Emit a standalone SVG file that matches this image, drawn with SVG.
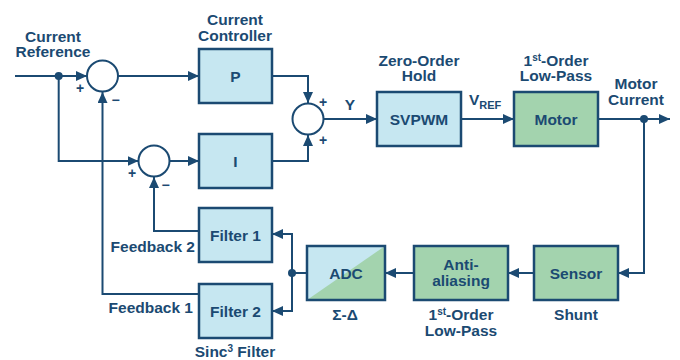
<svg xmlns="http://www.w3.org/2000/svg" width="680" height="360" viewBox="0 0 680 360">
<defs>
<marker id="ah" markerUnits="userSpaceOnUse" markerWidth="12" markerHeight="10" refX="11" refY="5" orient="auto">
<path d="M0,0 L11,5 L0,10 Z" fill="#1b4a72"/>
</marker>
</defs>
<style>
text{font-family:"Liberation Sans",Arial,sans-serif;font-weight:bold;fill:#1b4a72;font-size:15.5px;text-anchor:middle}
.blue{fill:#c6e7f1;stroke:#1b4a72;stroke-width:2.5}
.green{fill:#a3d3ae;stroke:#1b4a72;stroke-width:2.5}
.sum{fill:#ffffff;stroke:#1b4a72;stroke-width:2}
.ln{fill:none;stroke:#1b4a72;stroke-width:2}
.arr{marker-end:url(#ah)}
.dot{fill:#1b4a72}
.sg{font-size:14px}
.end{text-anchor:end}
.start{text-anchor:start}
</style>
<rect width="680" height="360" fill="#ffffff"/>
<g id="connectors">
<path class="ln arr" d="M15,76 H87"/>
<path class="ln arr" d="M118,76 H199"/>
<path class="ln arr" d="M272,76 H308 V103"/>
<path class="ln arr" d="M272,161 H308 V135"/>
<path class="ln arr" d="M323.5,119 H377"/>
<path class="ln arr" d="M461,119 H514"/>
<path class="ln arr" d="M598,119 H670"/>
<path class="ln arr" d="M644,119 V273 H618"/>
<path class="ln arr" d="M534,273 H508"/>
<path class="ln arr" d="M414,273 H385"/>
<path class="ln" d="M307,273 H292"/>
<path class="ln arr" d="M292,273 V234 H272"/>
<path class="ln arr" d="M292,273 V311 H272"/>
<path class="ln arr" d="M199,231 H154 V177"/>
<path class="ln arr" d="M199,294 H102.5 V92"/>
<path class="ln arr" d="M58.7,76 V161 H138.5"/>
<path class="ln arr" d="M169.5,161 H199"/>
<circle class="dot" cx="58.7" cy="76" r="4"/>
<circle class="dot" cx="644" cy="119" r="4"/>
<circle class="dot" cx="292" cy="273" r="4"/>
</g>
<g id="sum1">
<circle class="sum" cx="102.5" cy="76" r="15.5"/>
<text class="sg" x="80" y="93">+</text>
<text class="sg" x="115.5" y="105">−</text>
</g>
<g id="sum2">
<circle class="sum" cx="308" cy="119" r="15.5"/>
<text class="sg" x="323" y="107">+</text>
<text class="sg" x="323" y="145">+</text>
</g>
<g id="sum3">
<circle class="sum" cx="154" cy="161" r="15.5"/>
<text class="sg" x="132" y="178">+</text>
<text class="sg" x="165.5" y="190">−</text>
</g>
<g id="current-reference">
<text x="53" y="42">Current</text>
<text x="53" y="57">Reference</text>
</g>
<g id="p">
<rect class="blue" x="199" y="49" width="73" height="54"/>
<text x="235.5" y="81.5">P</text>
<text x="235" y="25">Current</text>
<text x="235" y="41">Controller</text>
</g>
<g id="i">
<rect class="blue" x="199" y="134" width="73" height="54"/>
<text x="235.5" y="166.5">I</text>
</g>
<g id="y-label">
<text x="350" y="110">Y</text>
</g>
<g id="svpwm">
<rect class="blue" x="377" y="92" width="84" height="54"/>
<text x="419" y="124.5">SVPWM</text>
<text x="419" y="66">Zero-Order</text>
<text x="419" y="81">Hold</text>
</g>
<g id="vref">
<text class="start" x="469" y="105">V<tspan font-size="11" dy="4">REF</tspan></text>
</g>
<g id="motor">
<rect class="green" x="514" y="92" width="84" height="54"/>
<text x="556" y="124.5">Motor</text>
<text x="556" y="66">1<tspan font-size="10" dy="-5">st</tspan><tspan dy="5">-Order</tspan></text>
<text x="556" y="81">Low-Pass</text>
</g>
<g id="motor-current">
<text x="636" y="89">Motor</text>
<text x="636" y="105">Current</text>
</g>
<g id="sensor">
<rect class="green" x="534" y="246" width="84" height="54"/>
<text x="576" y="278.5">Sensor</text>
<text x="576" y="320">Shunt</text>
</g>
<g id="anti-aliasing">
<rect class="green" x="414" y="246" width="94" height="54"/>
<text x="461" y="270">Anti-</text>
<text x="461" y="286">aliasing</text>
<text x="461" y="320">1<tspan font-size="10" dy="-5">st</tspan><tspan dy="5">-Order</tspan></text>
<text x="461" y="336">Low-Pass</text>
</g>
<g id="adc">
<rect x="307" y="246" width="78" height="54" fill="#c6e7f1"/>
<polygon points="307,300 385,246 385,300" fill="#a3d3ae"/>
<rect x="307" y="246" width="78" height="54" fill="none" stroke="#1b4a72" stroke-width="2.5"/>
<text x="346" y="278.5">ADC</text>
<text x="345" y="320">Σ-Δ</text>
</g>
<g id="filter1">
<rect class="blue" x="199" y="208" width="73" height="54"/>
<text x="235.5" y="240.5">Filter 1</text>
<text class="end" x="195" y="252">Feedback 2</text>
</g>
<g id="filter2">
<rect class="blue" x="199" y="284" width="73" height="54"/>
<text x="235.5" y="316.5">Filter 2</text>
<text class="end" x="193" y="313">Feedback 1</text>
<text x="235" y="357">Sinc<tspan font-size="10" dy="-5">3</tspan><tspan dy="5"> Filter</tspan></text>
</g>
</svg>
